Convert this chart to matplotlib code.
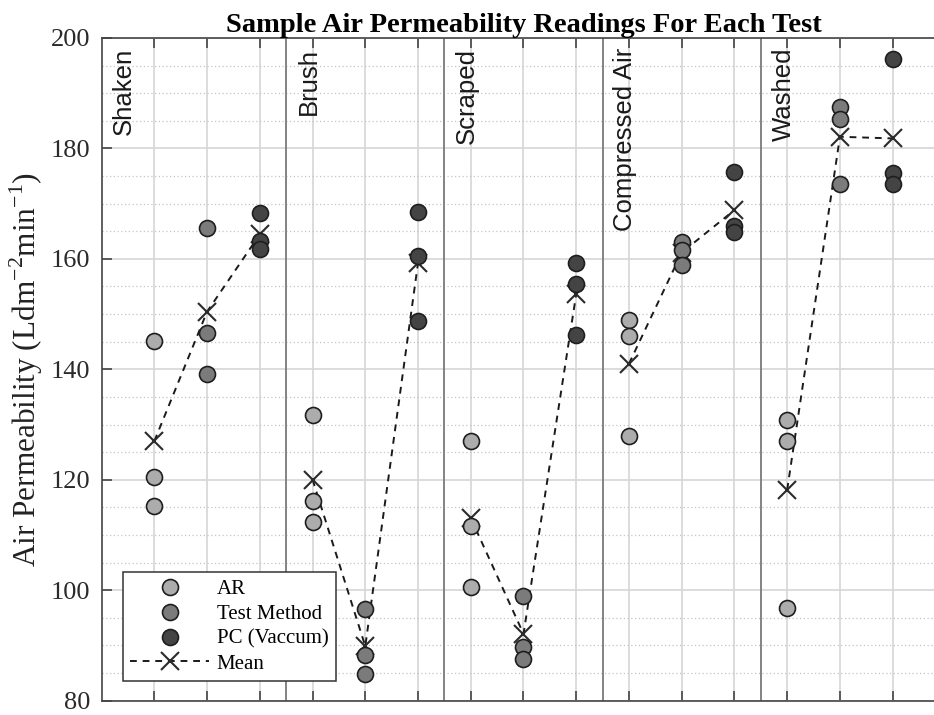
import numpy as np
import matplotlib
matplotlib.use('Agg')
import matplotlib.pyplot as plt
from matplotlib.lines import Line2D
from matplotlib.ticker import MultipleLocator

tests = ['Shaken', 'Brush', 'Scraped', 'Compressed Air', 'Washed']
methods = ['AR', 'Test Method', 'PC (Vaccum)']

# three readings per test, per method
ar = [[145.2, 120.5, 115.3],
      [131.7, 116.1, 112.3],
      [127.0, 111.6, 100.6],
      [148.9, 146.1, 128.0],
      [130.8, 127.1, 96.7]]
test_method = [[165.6, 146.5, 139.2],
               [96.6, 88.2, 84.8],
               [99.0, 89.7, 87.6],
               [163.0, 161.6, 158.8],
               [187.4, 185.3, 173.6]]
pc_vac = [[168.3, 163.2, 161.8],
          [168.4, 160.6, 148.8],
          [159.3, 155.4, 146.2],
          [175.8, 165.9, 164.8],
          [196.2, 175.6, 173.6]]

face = ['#acacac', '#7b7b7b', '#444444']
edge = '#1e1e1e'
serif = 'Liberation Serif'
sans = 'Liberation Sans'


def main():
  fig = plt.figure(figsize=(9.34, 7.15), dpi=100)
  ax = fig.add_axes([101.6 / 934, 14.3 / 715, 843.8 / 934, 662.8 / 715])

  for g, name in enumerate(tests):
    xs = np.arange(3) + 1 + 3 * g
    series = [ar[g], test_method[g], pc_vac[g]]
    means = [np.mean(s) for s in series]
    ax.plot(xs, means, linestyle=(0, (3.5, 3)), color='#1a1a1a', lw=1.4,
            marker='x', ms=13, mew=1.5, mec='#2a2a2a', zorder=3)
    for k, s in enumerate(series):
      ax.plot([xs[k]] * len(s), s, 'o', ls='none', ms=11.5, mfc=face[k],
              mec=edge, mew=1.2, zorder=4)
    left = 0 if g == 0 else 3 * g + 0.5
    if g > 0:
      ax.axvline(left, color='#7a7a7a', lw=1.3, zorder=2)
    ax.text(left + 0.43, 198.2, name, rotation=90, ha='center', va='top',
            fontsize=18.5, family=sans, color='#1a1a1a', zorder=5)

  ax.set_xlim(0, 16)
  ax.set_ylim(80, 200)
  ax.set_xticks(np.arange(1, 16))
  ax.set_xticklabels([])
  ax.yaxis.set_major_locator(MultipleLocator(20))
  ax.yaxis.set_minor_locator(MultipleLocator(5))
  ax.grid(True, which='major', color='#d6d6d6', lw=1.2, zorder=0)
  ax.grid(True, which='minor', axis='y', color='#c4c4c4', lw=0.9,
          linestyle=(0, (1, 2)), zorder=0)
  ax.set_axisbelow(True)
  ax.tick_params(which='major', direction='in', length=7, width=1.2,
                 color='#444444', top=True, labelsize=19, pad=8)
  ax.tick_params(which='minor', length=0)
  for lab in ax.get_yticklabels():
    lab.set_family(serif)
    lab.set_color('#2a2a2a')
  for sp in ax.spines.values():
    sp.set_color('#444444')
    sp.set_linewidth(1.2)

  ax.set_ylabel('Air Permeability (Ldm$^{\\mathregular{-2}}$min$^{\\mathregular{-1}}$)',
                fontsize=22.5, family=serif, color='#222222', labelpad=4)
  ax.set_title('Sample Air Permeability Readings For Each Test', fontsize=20.5,
               family=serif, fontweight='bold', pad=3)

  handles = [Line2D([], [], ls='none', marker='o', ms=11.5, mfc=face[k],
                    mec=edge, mew=1.2) for k in range(3)]
  handles.append(Line2D([], [], linestyle=(0, (3.5, 3)), color='#1a1a1a',
                        lw=1.4, marker='x', ms=13, mew=1.5, mec='#2a2a2a'))
  leg = ax.legend(handles, methods + ['Mean'], loc='lower left',
                  bbox_to_anchor=(0.0254, 0.0297), borderaxespad=0,
                  prop={'family': serif, 'size': 15},
                  handlelength=3.8, handletextpad=0.35, labelspacing=0.25,
                  borderpad=0.35, fancybox=False, framealpha=1,
                  edgecolor='#333333')
  leg.get_frame().set_linewidth(1.1)

  fig.savefig('out.png', dpi=100)
  plt.close(fig)


if __name__ == '__main__':
  main()
